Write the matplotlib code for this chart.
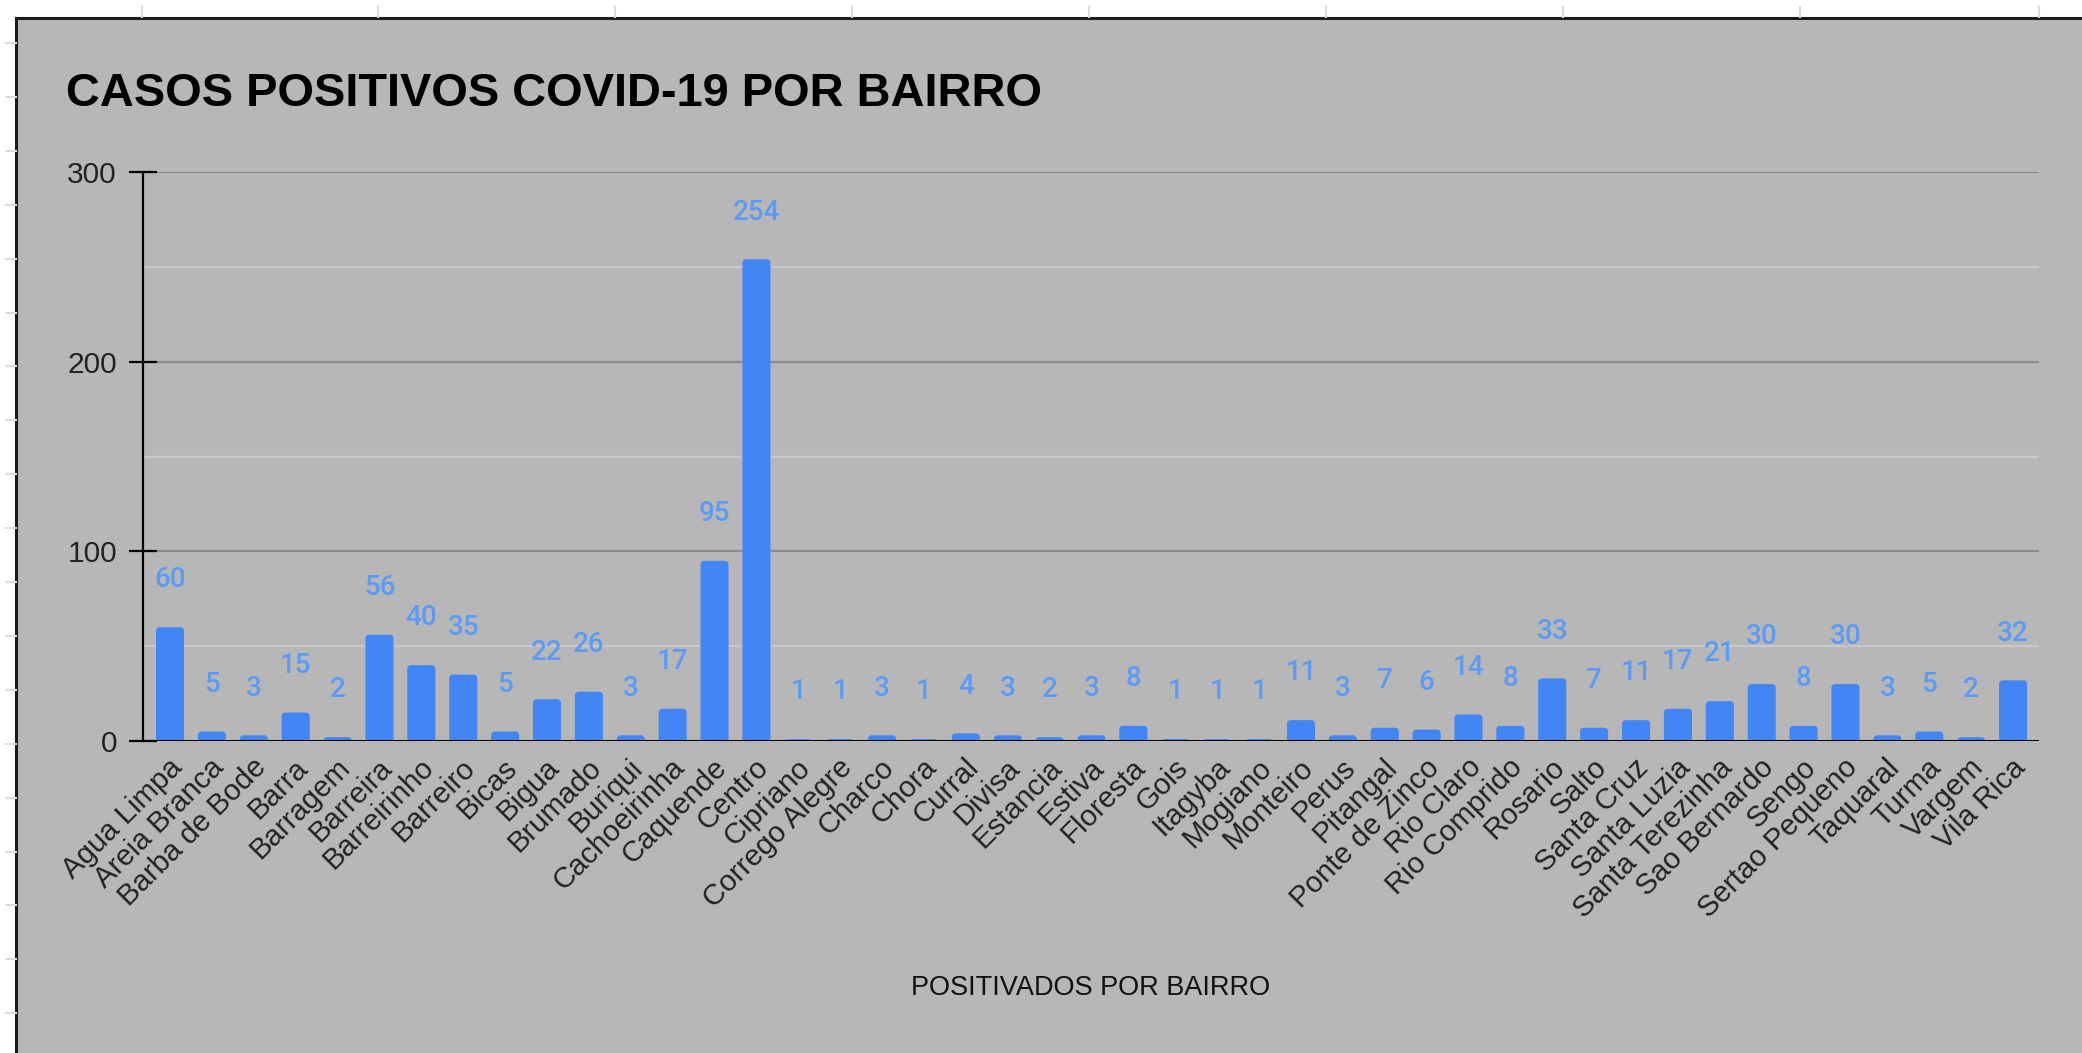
import matplotlib
matplotlib.use('Agg')
import matplotlib.pyplot as plt
from matplotlib.patches import Rectangle, FancyBboxPatch
from matplotlib.lines import Line2D
import matplotlib.transforms as mtransforms
import numpy as np

bairros = ["Agua Limpa", "Areia Branca", "Barba de Bode", "Barra", "Barragem",
           "Barreira", "Barreirinho", "Barreiro", "Bicas", "Bigua", "Brumado",
           "Buriqui", "Cachoeirinha", "Caquende", "Centro", "Cipriano",
           "Corrego Alegre", "Charco", "Chora", "Curral", "Divisa", "Estancia",
           "Estiva", "Floresta", "Gois", "Itagyba", "Mogiano", "Monteiro",
           "Perus", "Pitangal", "Ponte de Zinco", "Rio Claro", "Rio Comprido",
           "Rosario", "Salto", "Santa Cruz", "Santa Luzia", "Santa Terezinha",
           "Sao Bernardo", "Sengo", "Sertao Pequeno", "Taquaral", "Turma",
           "Vargem", "Vila Rica"]
casos = [60, 5, 3, 15, 2, 56, 40, 35, 5, 22, 26, 3, 17, 95, 254, 1, 1, 3, 1, 4,
         3, 2, 3, 8, 1, 1, 1, 11, 3, 7, 6, 14, 8, 33, 7, 11, 17, 21, 30, 8, 30,
         3, 5, 2, 32]
major_ticks = [0, 100, 200, 300]
minor_ticks = [50, 150, 250]

title = "CASOS POSITIVOS COVID-19 POR BAIRRO"
xlabel = "POSITIVADOS POR BAIRRO"

W, H = 2082, 1053
plt.rcParams['font.family'] = ['Liberation Sans', 'DejaVu Sans']

fig = plt.figure(figsize=(W / 100, H / 100), dpi=100, facecolor='white')

# spreadsheet background ticks
for xp in [142, 378, 615, 852, 1089, 1326, 1563, 1800, 2039]:
    fig.add_artist(Line2D([xp / W, xp / W], [1 - 7 / H, 1 - 17 / H],
                          transform=fig.transFigure, color='#dcdcdc', lw=1.5))
for k in range(20):
    yp = 43 + 53.9 * k
    fig.add_artist(Line2D([6 / W, 16 / W], [1 - yp / H, 1 - yp / H],
                          transform=fig.transFigure, color='#dcdcdc', lw=1.5))

# grey chart panel
panel = Rectangle((16 / W, -0.05), 1.2, 1 - 18 / H + 0.05,
                  transform=fig.transFigure, facecolor='#b7b7b7',
                  edgecolor='#1a1a1a', lw=2.2, zorder=0)
fig.add_artist(panel)

left, right = 143 / W, 2039 / W
bottom, top = 1 - 741 / H, 1 - 172 / H
ax = fig.add_axes([left, bottom, right - left, top - bottom])
ax.set_facecolor('none')

x = np.arange(len(bairros))
ax.set_xlim(-0.645, len(bairros) - 1 + 0.62)
ax.set_ylim(0, 300)

bars = ax.bar(x, casos, width=0.67, color='#4285f4', zorder=3)

# replace bars with versions having rounded top corners
fig.canvas.draw()
bbox = ax.get_window_extent()
px_per_x = bbox.width / (ax.get_xlim()[1] - ax.get_xlim()[0])
px_per_y = bbox.height / (ax.get_ylim()[1] - ax.get_ylim()[0])
aspect = px_per_x / px_per_y
for rect in bars:
    bx, bw, bh = rect.get_x(), rect.get_width(), rect.get_height()
    r_px = 4.0
    ext = r_px / px_per_y
    rs = r_px / px_per_x
    p = FancyBboxPatch((bx, -ext), bw, bh + ext,
                       boxstyle=f"round,pad=0,rounding_size={rs}",
                       mutation_aspect=aspect, facecolor='#4285f4',
                       edgecolor='none', zorder=3)
    rect.remove()
    ax.add_patch(p)

for xi, v in zip(x, casos):
    ax.annotate(str(v), (xi, v), xytext=(0, 34), textcoords='offset points',
                ha='center', va='center', fontsize=20, color='#5b9bf6',
                family=['Roboto', 'DejaVu Sans'], fontweight='medium')

for m in minor_ticks:
    ax.axhline(m, color='#c9c9c9', lw=1.6, zorder=1)
for m in major_ticks[1:]:
    ax.axhline(m, color='#8c8c8c', lw=1.6, zorder=1)
ax.axhline(0, color='black', lw=2.2, zorder=4)

for s in ['top', 'right', 'bottom']:
    ax.spines[s].set_visible(False)
ax.spines['left'].set_color('black')
ax.spines['left'].set_linewidth(1.6)
ax.spines['left'].set_zorder(5)

ax.set_yticks(major_ticks)
ax.set_yticklabels([str(t) for t in major_ticks])
ax.tick_params(axis='y', direction='inout', length=19.5, width=1.6,
               color='black', labelsize=21.5, labelcolor='#222222', pad=9)
ax.set_xticks(x)
ax.set_xticklabels(bairros, rotation=45, ha='right', va='center',
                   rotation_mode='anchor', fontsize=21.2, color='#222222')
ax.tick_params(axis='x', length=0, pad=16)
shift = mtransforms.ScaledTranslation(8 / 100, 0, fig.dpi_scale_trans)
for lab in ax.get_xticklabels():
    lab.set_transform(lab.get_transform() + shift)

fig.text((left + right) / 2, 1 - 988 / H, xlabel, ha='center', va='center',
         fontsize=19.5, color='#111111')
fig.text(66 / W, 1 - 94 / H, title, ha='left', va='center', fontsize=33.8,
         fontweight='bold', color='black')

fig.savefig('out.png', dpi=100, facecolor='white')
